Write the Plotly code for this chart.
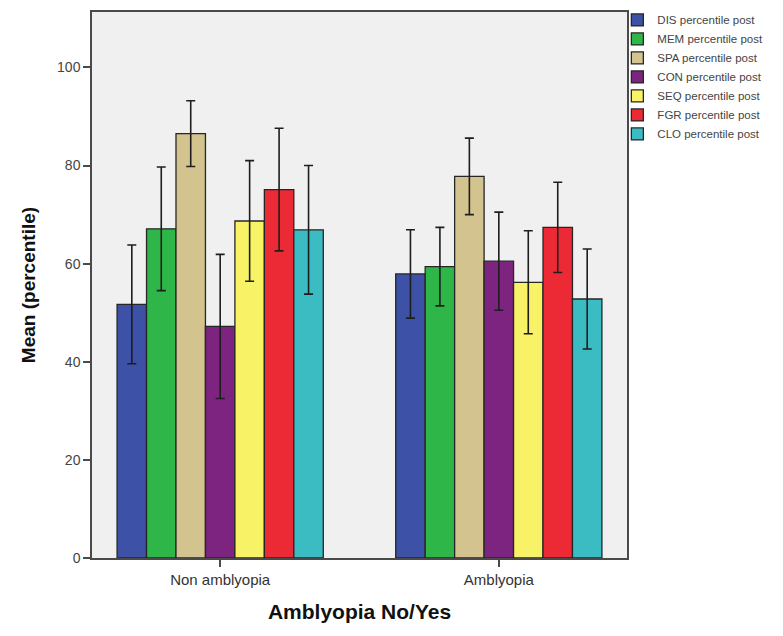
import plotly.graph_objects as go

# Group categories on the x axis
groups = ["Non amblyopia", "Amblyopia"]

# Subtest names (legend entries)
series_names = [
    "DIS percentile post",
    "MEM percentile post",
    "SPA percentile post",
    "CON percentile post",
    "SEQ percentile post",
    "FGR percentile post",
    "CLO percentile post",
]

# Mean percentile per subtest: [Non amblyopia, Amblyopia]
dis_mean = [51.7, 57.9]
mem_mean = [67.1, 59.4]
spa_mean = [86.5, 77.8]
con_mean = [47.2, 60.5]
seq_mean = [68.7, 56.2]
fgr_mean = [75.1, 67.4]
clo_mean = [66.9, 52.8]

# Error bar half-widths: [Non amblyopia, Amblyopia]
dis_err = [12.1, 9.0]
mem_err = [12.6, 8.0]
spa_err = [6.7, 7.8]
con_err = [14.7, 10.0]
seq_err = [12.3, 10.5]
fgr_err = [12.5, 9.2]
clo_err = [13.1, 10.2]

means = [dis_mean, mem_mean, spa_mean, con_mean, seq_mean, fgr_mean, clo_mean]
errors = [dis_err, mem_err, spa_err, con_err, seq_err, fgr_err, clo_err]

colors = ["#3d51a6", "#2fb649", "#d3c48f", "#7c2480", "#f8f267", "#ec2a35", "#3bbcc2"]

y_ticks = [0, 20, 40, 60, 80, 100]

fig = go.Figure()
for name, m, e, c in zip(series_names, means, errors, colors):
    fig.add_trace(go.Bar(
        name=name,
        x=groups,
        y=m,
        marker=dict(color=c, line=dict(color="#262626", width=1.3)),
        error_y=dict(type="data", array=e, visible=True,
                     color="#1e1e1e", thickness=1.6, width=4.5),
    ))

fig.update_layout(
    width=783,
    height=636,
    margin=dict(l=92, r=156, t=12, b=78, autoexpand=False),
    paper_bgcolor="white",
    plot_bgcolor="#f0f0f0",
    barmode="group",
    bargap=0.26,
    bargroupgap=0,
    font=dict(family="Liberation Sans, Arial, sans-serif", color="#333333"),
    legend=dict(
        x=0.982, xanchor="left", xref="paper",
        y=1.012, yanchor="top",
        bgcolor="rgba(0,0,0,0)",
        font=dict(size=11.5, color="#444444"),
        itemwidth=30,
        tracegroupgap=0,
    ),
    xaxis=dict(
        type="category",
        range=[-0.46, 1.46],
        showline=True, linecolor="#4a4a4a", linewidth=1.5, mirror=True,
        ticks="outside", ticklen=7, tickcolor="#4a4a4a", tickwidth=1.5,
        tickfont=dict(size=15, color="#333333"),
        title=dict(text="<b>Amblyopia No/Yes</b>",
                   font=dict(size=21, color="#111111"), standoff=18),
        showgrid=False,
    ),
    yaxis=dict(
        range=[0, 111.3],
        tickvals=y_ticks,
        showline=True, linecolor="#4a4a4a", linewidth=1.5, mirror=True,
        ticks="outside", ticklen=7, tickcolor="#4a4a4a", tickwidth=1.5,
        tickfont=dict(size=14, color="#444444"),
        title=dict(text="<b>Mean (percentile)</b>",
                   font=dict(size=19, color="#111111"), standoff=16),
        showgrid=False, zeroline=False,
    ),
)

fig.write_html("out.html")
